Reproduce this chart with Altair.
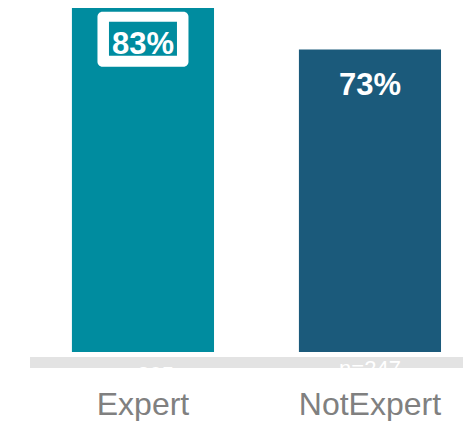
import altair as alt
import pandas as pd

categories = ["Expert", "NotExpert"]
values = [83, 73]
n_counts = [305, 247]
highlight = [True, False]
bar_colors = ["#008C9F", "#1B5A7B"]

df = pd.DataFrame({
    "category": categories,
    "value": values,
    "n": n_counts,
    "highlight": highlight,
})

FONT = "Liberation Sans"
W = 433
H = 344

x_enc = alt.X(
    "category:N",
    sort=categories,
    scale=alt.Scale(paddingInner=0.374, paddingOuter=0.14075, align=0.656),
    axis=alt.Axis(
        title=None, domain=False, ticks=False, tickSize=0, labelAngle=0,
        labelFont=FONT, labelFontSize=32, labelColor="#808080",
        labelBaseline="alphabetic", labelPadding=62,
    ),
)
y_scale = alt.Scale(domain=[0, 83], nice=False, zero=True)
y_enc = alt.Y("value:Q", scale=y_scale, axis=None)

base = alt.Chart(df)

band = base.transform_filter(alt.datum.category == categories[0]).mark_rect(color="#E3E3E3").encode(
    x=alt.value(0), x2=alt.value(W), y=alt.value(349), y2=alt.value(360)
)

bars = base.mark_bar().encode(
    x=x_enc,
    y=y_enc,
    color=alt.Color("category:N", scale=alt.Scale(domain=categories, range=bar_colors), legend=None),
)

hl = base.transform_filter(alt.datum.highlight)

white_box = hl.mark_bar(width=91, cornerRadius=5, color="white", yOffset=3.7, y2Offset=58.7).encode(
    x=alt.X("category:N", sort=categories),
    y=y_enc,
    y2=alt.Y2("value:Q"),
)
inner_box = hl.mark_bar(width=68, color=bar_colors[0], yOffset=13.7, y2Offset=47.7).encode(
    x=alt.X("category:N", sort=categories),
    y=y_enc,
    y2=alt.Y2("value:Q"),
)

pct = base.transform_calculate(label="datum.value + '%'").mark_text(
    font=FONT, fontSize=31, fontWeight="bold", color="white", baseline="alphabetic", dy=46
).encode(
    x=alt.X("category:N", sort=categories),
    y=y_enc,
    text="label:N",
)

n_expert = base.transform_filter(alt.datum.category == categories[0]).transform_calculate(
    nlabel="'n=' + datum.n"
).mark_text(font=FONT, fontSize=22, color="white", baseline="alphabetic").encode(
    x=alt.X("category:N", sort=categories), y=alt.value(373.8), text="nlabel:N"
)
n_other = base.transform_filter(alt.datum.category == categories[1]).transform_calculate(
    nlabel="'n=' + datum.n"
).mark_text(font=FONT, fontSize=22, color="white", baseline="alphabetic").encode(
    x=alt.X("category:N", sort=categories), y=alt.value(367.8), text="nlabel:N"
)

chart = alt.layer(band, bars, white_box, inner_box, pct, n_expert, n_other).properties(
    width=W, height=H,
    autosize=alt.AutoSizeParams(type="none"),
    padding={"left": 22, "top": 0, "right": 0, "bottom": 76},
).configure_view(stroke=None)

chart.save("out.html", embed_options={"renderer": "svg", "actions": False})
